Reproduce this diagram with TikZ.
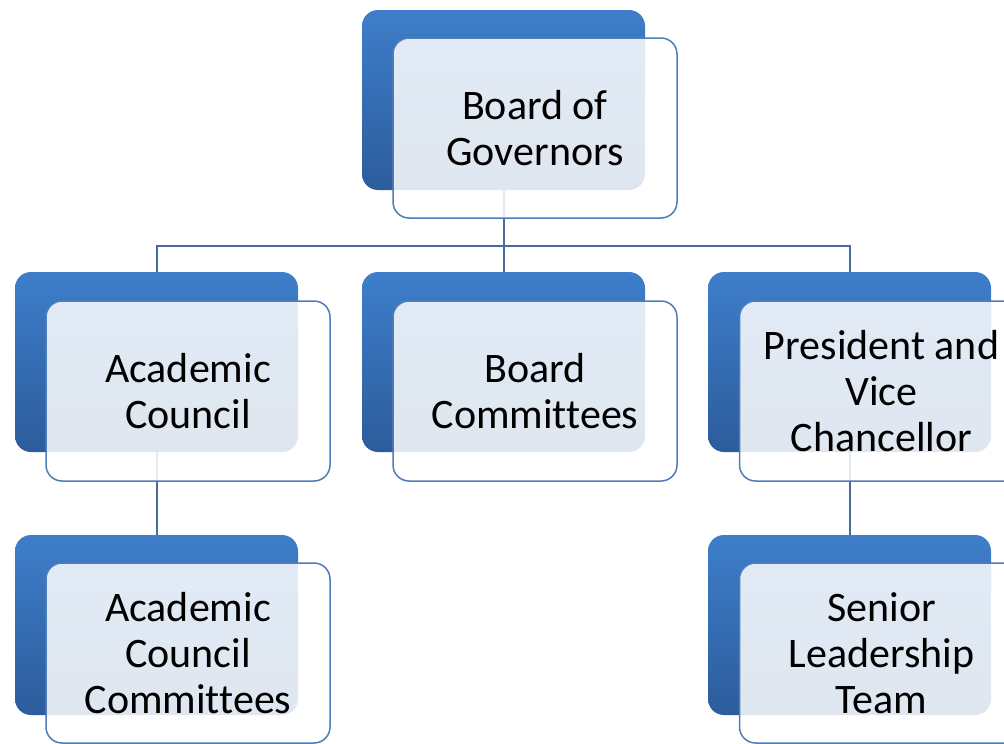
\documentclass[tikz,border=0pt]{standalone}
\usepackage{fontspec}
\setmainfont[Ligatures=NoCommon]{Carlito}
\begin{document}
\begin{tikzpicture}[x=1pt,y=-1pt,
  bluebox/.style={rectangle, rounded corners=16pt, minimum width=283pt, minimum height=180pt, inner sep=0pt,
    top color={rgb,255:red,62;green,126;blue,202}, bottom color={rgb,255:red,44;green,92;blue,156}, draw=none},
  whitebox/.style={rectangle, rounded corners=16pt, minimum width=284pt, minimum height=180pt, inner sep=0pt,
    fill=white, fill opacity=0.85, text opacity=1, draw={rgb,255:red,79;green,125;blue,185}, line width=1.5pt,
    align=center, font=\fontsize{42}{46}\selectfont, text=black},
  conn/.style={draw={rgb,255:red,70;green,108;blue,160}, line width=2pt}]
\useasboundingbox (0,0) rectangle (1004,744);
\clip (0,0) rectangle (1004,744);
% blue back boxes
\node[bluebox] (b1) at (503.5,100) {};
\node[bluebox] (b2) at (156.5,362) {};
\node[bluebox] (b3) at (503.5,362) {};
\node[bluebox] (b4) at (849.5,362) {};
\node[bluebox] (b5) at (156.5,625) {};
\node[bluebox] (b6) at (849.5,625) {};
% connectors
\draw[conn] (b1.south) -- ++(0,56) coordinate (bar) -| (b2.north);
\draw[conn] (bar) -| (b4.north);
\draw[conn] (bar) -- (b3.north);
\draw[conn] (b2.south) -- (b5.north);
\draw[conn] (b4.south) -- (b6.north);
% front boxes
\node[whitebox] (w1) at (535,128) {Board of\\Governors};
\node[whitebox] (w2) at (188,391) {Academic\\Council};
\node[whitebox] (w3) at (535,391) {Board\\Committees};
\node[whitebox] (w4) at (881.5,391) {President and\\Vice\\Chancellor};
\node[whitebox] (w5) at (188,653) {Academic\\Council\\Committees};
\node[whitebox] (w6) at (881.5,653) {Senior\\Leadership\\Team};
\end{tikzpicture}
\end{document}
